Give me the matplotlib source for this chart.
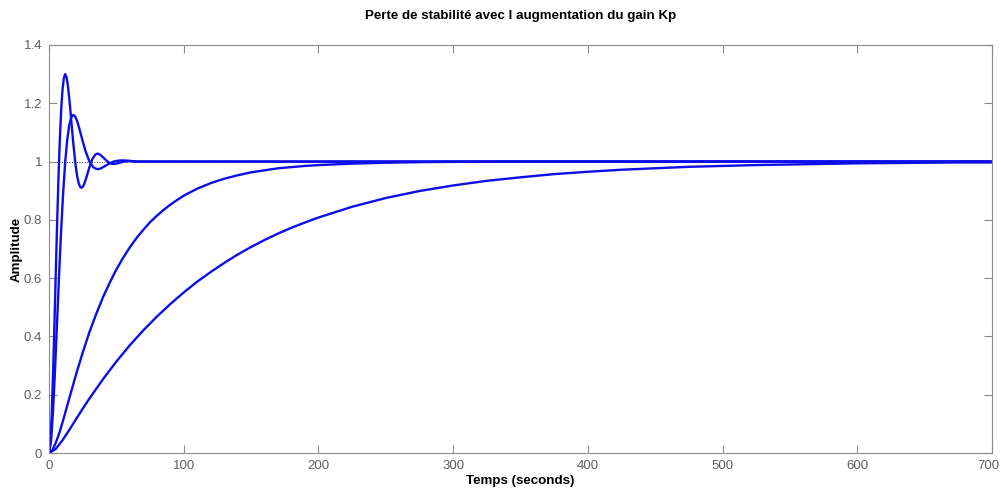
import matplotlib
matplotlib.use("Agg")
import matplotlib.pyplot as plt
import matplotlib.transforms as mtransforms

# ==============================================================
# Data (step responses, several Kp values)
# ==============================================================
# smallest Kp: slow, almost first order
t_slow = [0, 5, 10, 15, 20, 25, 30, 40, 50, 60, 70, 80, 90, 100, 110, 120,
          130, 140, 150, 160, 170, 180, 190, 200, 225, 250, 275, 300, 325,
          350, 375, 400, 425, 450, 475, 500, 525, 550, 575, 600, 625, 650,
          675, 700]
y_slow = [0, 0.014, 0.044, 0.079, 0.116, 0.152, 0.187, 0.253, 0.314, 0.370,
          0.421, 0.468, 0.511, 0.551, 0.588, 0.621, 0.652, 0.681, 0.707,
          0.731, 0.753, 0.773, 0.791, 0.808, 0.845, 0.875, 0.899, 0.918,
          0.934, 0.946, 0.957, 0.965, 0.972, 0.977, 0.982, 0.985, 0.988,
          0.990, 0.992, 0.994, 0.995, 0.996, 0.997, 0.997]

# medium Kp
t_mid = [0, 2.5, 5, 7.5, 10, 12.5, 15, 20, 25, 30, 35, 40, 45, 50, 55, 60,
         65, 70, 75, 80, 85, 90, 95, 100, 110, 120, 130, 140, 150, 160, 170,
         180, 190, 200, 225, 250, 275, 300, 350, 400, 500, 600, 700]
y_mid = [0, 0.010, 0.035, 0.067, 0.105, 0.146, 0.187, 0.269, 0.345, 0.415,
         0.477, 0.534, 0.584, 0.630, 0.670, 0.706, 0.738, 0.766, 0.792,
         0.814, 0.834, 0.852, 0.868, 0.883, 0.907, 0.926, 0.941, 0.953,
         0.963, 0.970, 0.977, 0.981, 0.985, 0.988, 0.993, 0.996, 0.998,
         0.999, 1.0, 1.0, 1.0, 1.0, 1.0]

# large Kp: first overshoot (about 16 %)
t_osc1 = [0, 1.5, 3, 4.5, 6, 7.5, 9, 10.5, 12, 13.5, 15, 16.5, 18, 19.5, 21,
          22.5, 24, 25.5, 27, 30, 33, 34.5, 36, 37.5, 39, 42, 45, 48, 51, 54,
          57, 60, 66, 80, 700]
y_osc1 = [0, 0.041, 0.147, 0.292, 0.454, 0.617, 0.767, 0.895, 0.999, 1.075,
          1.125, 1.152, 1.160, 1.154, 1.137, 1.113, 1.087, 1.061, 1.037,
          1.000, 0.980, 0.976, 0.974, 0.975, 0.978, 0.986, 0.994, 1.000,
          1.003, 1.004, 1.0035, 1.002, 1.0, 1.0, 1.0]

# largest Kp: overshoot about 30 %
t_osc2 = [0, 1, 2, 3, 4, 5, 6, 7, 8, 9, 10, 11, 12, 13, 14, 15, 16, 17, 18,
          19, 20, 21, 22, 23, 24, 25, 26, 27, 28, 30, 32, 34, 35, 36, 37, 38,
          40, 42, 44, 46, 48, 50, 52, 54, 56, 60, 64, 80, 700]
y_osc2 = [0, 0.037, 0.135, 0.276, 0.443, 0.619, 0.790, 0.945, 1.075, 1.177,
          1.247, 1.287, 1.300, 1.289, 1.259, 1.217, 1.167, 1.114, 1.063,
          1.017, 0.977, 0.947, 0.926, 0.914, 0.910, 0.913, 0.922, 0.935,
          0.950, 0.981, 1.007, 1.022, 1.026, 1.027, 1.026, 1.023, 1.015,
          1.006, 0.998, 0.993, 0.992, 0.993, 0.9955, 0.998, 1.0007, 1.002,
          1.0, 1.0, 1.0]

x_ticks = [0, 100, 200, 300, 400, 500, 600, 700]
y_ticks = [0, 0.2, 0.4, 0.6, 0.8, 1, 1.2, 1.4]
y_tick_labels = ["0", "0.2", "0.4", "0.6", "0.8", "1", "1.2", "1.4"]

title = "Perte de stabilité avec l augmentation du gain Kp"
x_label = "Temps (seconds)"
y_label = "Amplitude"

LINE_COLOR = "#0d0de8"
AXIS_COLOR = "#8a8a8a"
TICK_COLOR = "#5e5e5e"

plt.rcParams['font.family'] = ['Liberation Sans', 'DejaVu Sans']

fig = plt.figure(figsize=(10.01, 4.88), dpi=100)
ax = fig.add_axes([0.049, 0.0717, 0.942, 0.8361])

# steady state reference line (dotted)
ax.axhline(1.0, color="black", lw=0.6, ls=(0, (1, 2)), zorder=1)

for t, y in [(t_slow, y_slow), (t_mid, y_mid), (t_osc1, y_osc1), (t_osc2, y_osc2)]:
    ax.plot(t, y, color=LINE_COLOR, lw=1.7, solid_joinstyle='round', zorder=2)

ax.set_xlim(0, 700)
ax.set_ylim(0, 1.4)
ax.set_xticks(x_ticks)
ax.set_yticks(y_ticks)
ax.set_yticklabels(y_tick_labels)

ax.tick_params(direction='in', length=6, width=0.8, color=AXIS_COLOR,
               labelcolor=TICK_COLOR, labelsize=9.5, top=True, right=True, pad=5)
for sp in ax.spines.values():
    sp.set_color(AXIS_COLOR)
    sp.set_linewidth(0.8)

# last x label sits on the figure edge: nudge it left so it stays whole
last = ax.get_xticklabels()[-1]
last.set_transform(last.get_transform() +
                   mtransforms.ScaledTranslation(-4 / 100, 0, fig.dpi_scale_trans))

ax.set_title(title, fontsize=9.6, fontweight='bold', pad=19)
ax.set_xlabel(x_label, fontsize=9.6, fontweight='bold', labelpad=2.5)
ax.set_ylabel(y_label, fontsize=9.6, fontweight='bold', labelpad=1)

fig.savefig("out.png", dpi=100)
